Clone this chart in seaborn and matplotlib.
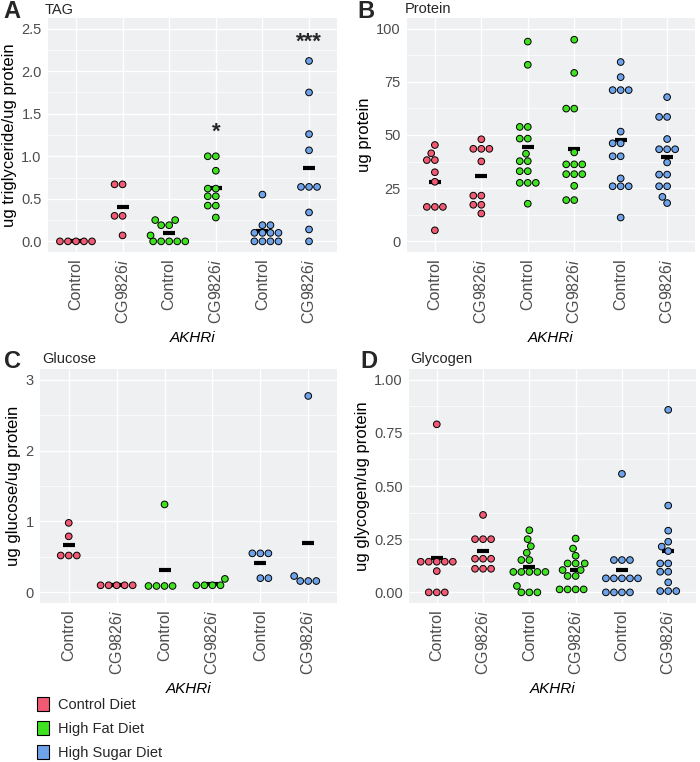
"""
Dot plots of TAG, protein, glucose and glycogen per AKHRi genotype and diet.
"""
import pandas as pd
import matplotlib
matplotlib.use("Agg")
import matplotlib.pyplot as plt
import seaborn as sns
from matplotlib.patches import Patch
from matplotlib.ticker import MultipleLocator

diets = ["Control Diet", "High Fat Diet", "High Sugar Diet"]
diet_colors = ["#F25A73", "#3FE220", "#6EA3EA"]
genotypes = ["Control", "CG9826i"]
group_diet = ["Control Diet", "Control Diet", "High Fat Diet", "High Fat Diet",
              "High Sugar Diet", "High Sugar Diet"]
group_labels = ["Control", r"CG9826$\mathit{i}$"] * 3

# one list per group: (Control, CG9826i) x (CD, HFD, HSD)
tag_values = [
    [0, 0, 0, 0, 0],
    [0.67, 0.67, 0.30, 0.30, 0.07],
    [0, 0, 0, 0, 0, 0.07, 0.19, 0.19, 0.25, 0.25],
    [1.0, 1.0, 0.83, 0.62, 0.62, 0.53, 0.53, 0.42, 0.42, 0.28],
    [0.55, 0.19, 0.19, 0.10, 0.10, 0.10, 0.10, 0, 0, 0, 0],
    [2.12, 1.75, 1.26, 1.07, 0.64, 0.64, 0.64, 0.34, 0.14, 0],
]
tag_signif = ["", "", "", "*", "", "***"]
tag_signif_y = [0, 0, 0, 1.28, 0, 2.34]

protein_values = [
    [45.3, 41.4, 38.2, 38.2, 32.5, 28.0, 16.2, 16.2, 16.2, 5.2],
    [48.0, 43.5, 43.5, 43.5, 37.6, 21.5, 21.5, 17.2, 17.2, 13.1],
    [93.9, 83.0, 53.8, 53.8, 48.3, 48.3, 41.2, 37.7, 37.7, 33.0, 33.0,
     27.5, 27.5, 27.5, 17.7],
    [94.8, 79.2, 62.4, 62.4, 41.8, 36.2, 36.2, 36.2, 31.6, 31.6, 31.6,
     26.1, 19.4, 19.4],
    [84.3, 77.2, 71.1, 71.1, 71.1, 51.6, 46.1, 46.1, 40.0, 40.0, 29.6,
     25.9, 25.9, 25.9, 11.2],
    [67.8, 58.5, 58.5, 48.1, 43.3, 43.3, 43.3, 37.1, 31.4, 31.4, 25.9,
     25.9, 20.9, 18.0],
]

glucose_values = [
    [0.98, 0.79, 0.52, 0.52, 0.52],
    [0.10, 0.10, 0.10, 0.10, 0.10],
    [1.24, 0.09, 0.09, 0.09, 0.09],
    [0.19, 0.10, 0.10, 0.10, 0.10],
    [0.55, 0.55, 0.55, 0.20, 0.20],
    [2.77, 0.23, 0.16, 0.16, 0.16],
]

glycogen_values = [
    [0.79, 0.144, 0.144, 0.144, 0.144, 0.144, 0.10, 0, 0, 0],
    [0.364, 0.25, 0.25, 0.25, 0.158, 0.158, 0.158, 0.111, 0.111, 0.111],
    [0.292, 0.25, 0.217, 0.186, 0.152, 0.152, 0.096, 0.096, 0.096, 0.096,
     0.096, 0.03, 0, 0, 0],
    [0.253, 0.206, 0.172, 0.136, 0.136, 0.136, 0.105, 0.105, 0.077, 0.077,
     0.014, 0.014, 0.014, 0.014],
    [0.557, 0.152, 0.152, 0.152, 0.066, 0.066, 0.066, 0.066, 0.066,
     0, 0, 0, 0],
    [0.858, 0.408, 0.29, 0.238, 0.215, 0.194, 0.136, 0.136, 0.097, 0.097,
     0.047, 0.006, 0.006, 0.006],
]


def to_frame(values):
    rows = []
    for i, vals in enumerate(values):
        for v in vals:
            rows.append({"group": f"g{i}", "diet": group_diet[i], "value": v})
    return pd.DataFrame(rows)


sns.set_theme(style="darkgrid", rc={
    "axes.facecolor": "#EEF0F1",
    "grid.color": "white",
    "axes.edgecolor": "#EEF0F1",
})
plt.rcParams["font.family"] = ["Liberation Sans", "DejaVu Sans"]
plt.rcParams["mathtext.fontset"] = "custom"
plt.rcParams["mathtext.rm"] = "Liberation Sans"
plt.rcParams["mathtext.it"] = "Liberation Sans:italic"

W, H = 700, 762
fig = plt.figure(figsize=(7, 7.62), dpi=100)

# panel box (left, top, right, bottom) and letter / title positions, in pixels
panels = [
    ("A", "TAG", tag_values, "ug triglyceride/ug protein", (48, 18, 337, 252),
     (-0.125, 2.625), 0.5, "{:.1f}", (3, 12), (45, 10)),
    ("B", "Protein", protein_values, "ug protein", (407, 18, 695, 252),
     (-5, 105), 25, "{:.0f}", (357, 12), (405, 9)),
    ("C", "Glucose", glucose_values, "ug glucose/ug protein", (40, 369, 337, 603),
     (-0.15, 3.15), 1, "{:.0f}", (4, 361), (42, 359)),
    ("D", "Glycogen", glycogen_values, "ug glycogen/ug protein", (409, 369, 696, 603),
     (-0.05, 1.05), 0.25, "{:.2f}", (360, 361), (410, 359)),
]
order = [f"g{i}" for i in range(6)]

axes = []
for letter, title, values, ylabel, (l, t, r, b), ylim, step, fmt, lpos, tpos in panels:
    ax = fig.add_axes([l / W, 1 - b / H, (r - l) / W, (b - t) / H])
    df = to_frame(values)
    sns.swarmplot(data=df, x="group", y="value", hue="diet", order=order,
                  hue_order=diets, palette=diet_colors, size=4.8,
                  edgecolor="black", linewidth=0.7, legend=False, ax=ax)
    sns.pointplot(data=df, x="group", y="value", order=order,
                  estimator="mean", errorbar=None, linestyle="none",
                  marker="_", color="black", markersize=8.5,
                  markeredgewidth=3, ax=ax)
    ax.set_xlim(-0.6, 5.6)
    ax.set_ylim(*ylim)
    ax.yaxis.set_major_locator(MultipleLocator(step))
    ax.yaxis.set_minor_locator(MultipleLocator(step / 2))
    ax.set_yticklabels([fmt.format(v) for v in ax.get_yticks()])
    ax.set_ylim(*ylim)
    ax.grid(True, which="major", color="white", linewidth=1.0)
    ax.grid(True, which="minor", axis="y", color="white", linewidth=0.5)
    ax.set_xticks(range(6))
    ax.set_xticklabels(group_labels, rotation=90)
    ax.tick_params(axis="both", which="major", length=2.5, width=0.8,
                   color="#4D4D4D", labelcolor="#4D4D4D", labelsize=10.5, pad=2)
    ax.tick_params(axis="x", labelsize=11.5)
    ax.tick_params(axis="y", which="minor", length=0)
    ax.set_ylabel(ylabel, fontsize=12, color="black", labelpad=3)
    ax.set_xlabel("AKHRi", fontsize=11, style="italic", color="black",
                  labelpad=5)
    for s in ax.spines.values():
        s.set_visible(False)
    ax.set_axisbelow(True)
    fig.text(lpos[0] / W, 1 - lpos[1] / H, letter, fontsize=17,
             fontweight="bold", va="center", ha="left")
    fig.text(tpos[0] / W, 1 - tpos[1] / H, title, fontsize=10.5, va="center",
             ha="left")
    axes.append(ax)

# significance marks for TAG
for i, (lab, y) in enumerate(zip(tag_signif, tag_signif_y)):
    if lab:
        axes[0].text(i, y, lab, ha="center", va="center", fontsize=16,
                     fontweight="bold")

handles = [Patch(facecolor=c, edgecolor="black", linewidth=0.8) for c in diet_colors]
fig.legend(handles, diets, loc="upper left", bbox_to_anchor=(37 / W, 1 - 697 / H),
           frameon=False, fontsize=10.5, handlelength=0.85, handleheight=1.1,
           handletextpad=0.6, labelspacing=0.62, borderaxespad=0, borderpad=0)

fig.savefig("out.png", dpi=100)
